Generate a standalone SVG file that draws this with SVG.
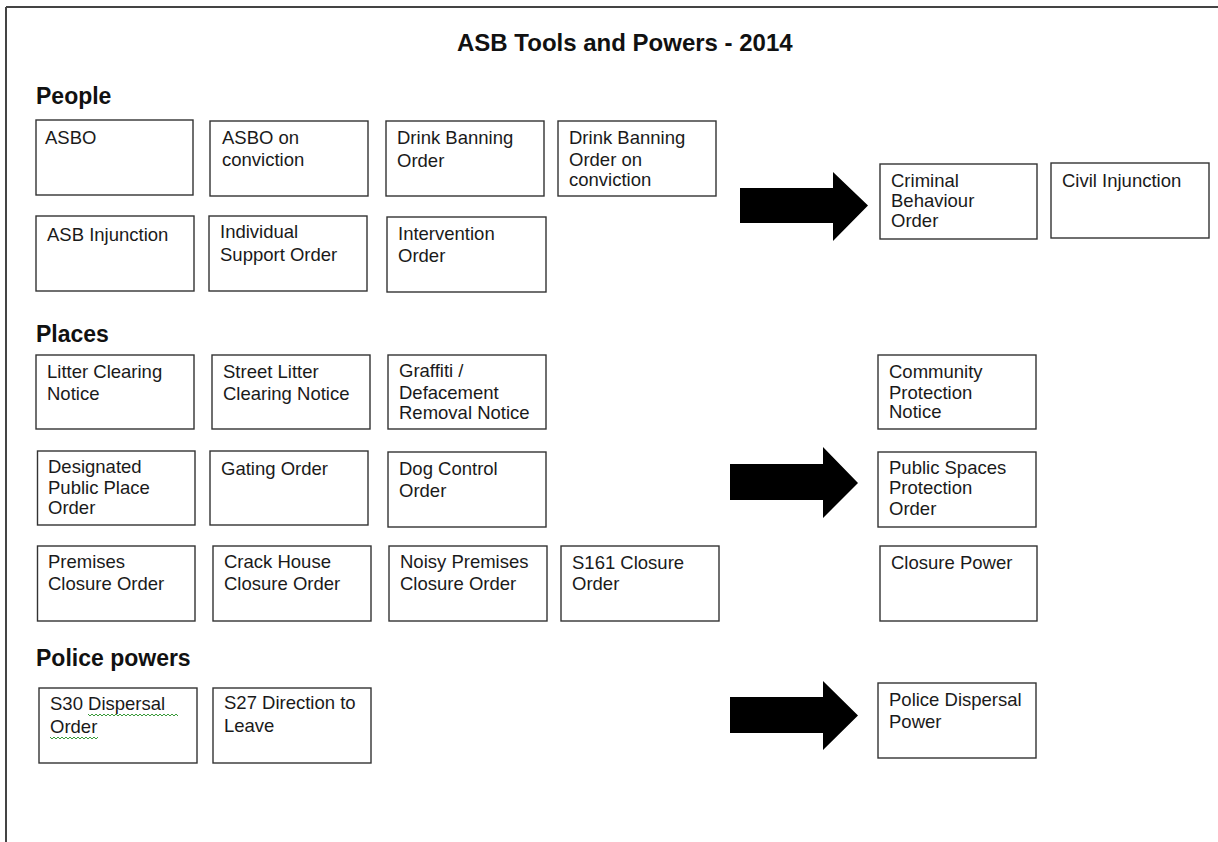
<svg xmlns="http://www.w3.org/2000/svg" width="1218" height="842" viewBox="0 0 1218 842">
<style>
.bx{fill:#fff;stroke:#333;stroke-width:1.4}
.t{font-family:"Liberation Sans",Arial,sans-serif;font-size:18.5px;fill:#1a1a1a}
.h{font-family:"Liberation Sans",Arial,sans-serif;font-size:23px;font-weight:bold;fill:#111}
.ttl{font-family:"Liberation Sans",Arial,sans-serif;font-size:24px;font-weight:bold;fill:#111}
.ar{fill:#000}
</style>
<rect width="1218" height="842" fill="#fff"/>
<g id="frame" stroke="#444" stroke-width="2" fill="none">
<line x1="6" y1="7" x2="1218" y2="7"/>
<line x1="6" y1="7" x2="6" y2="842"/>
</g>
<text class="ttl" x="457" y="51">ASB Tools and Powers - 2014</text>
<text class="h" x="36" y="104">People</text>
<text class="h" x="36" y="342">Places</text>
<text class="h" x="36" y="666">Police powers</text>

<g id="connectors">
<polygon class="ar" points="740,188 833,188 833,172 868,205.5 833,241 833,223 740,223"/>
<polygon class="ar" points="730,464 823,464 823,447 858,483 823,518 823,500 730,500"/>
<polygon class="ar" points="730,697 823,697 823,681 858,715.5 823,750 823,733 730,733"/>
</g>

<g id="asbo"><rect class="bx" x="36" y="120" width="157" height="75"/><text class="t" x="45" y="144">ASBO</text></g>
<g id="asbo-conviction"><rect class="bx" x="210" y="121" width="158" height="75"/><text class="t" x="222" y="144">ASBO on</text><text class="t" x="222" y="166">conviction</text></g>
<g id="dbo"><rect class="bx" x="386" y="121" width="158" height="75"/><text class="t" x="397" y="144">Drink Banning</text><text class="t" x="397" y="166.5">Order</text></g>
<g id="dbo-conviction"><rect class="bx" x="558" y="121" width="158" height="75"/><text class="t" x="569" y="144">Drink Banning</text><text class="t" x="569" y="166">Order on</text><text class="t" x="569" y="186">conviction</text></g>
<g id="asb-injunction"><rect class="bx" x="36" y="216" width="158" height="75"/><text class="t" x="47" y="241">ASB Injunction</text></g>
<g id="iso"><rect class="bx" x="209" y="216" width="158" height="75"/><text class="t" x="220" y="238">Individual</text><text class="t" x="220" y="261">Support Order</text></g>
<g id="intervention"><rect class="bx" x="387" y="217" width="159" height="75"/><text class="t" x="398" y="239.5">Intervention</text><text class="t" x="398" y="262">Order</text></g>
<g id="cbo"><rect class="bx" x="880" y="164" width="157" height="75"/><text class="t" x="891" y="186.5">Criminal</text><text class="t" x="891" y="207">Behaviour</text><text class="t" x="891" y="227">Order</text></g>
<g id="civil-injunction"><rect class="bx" x="1051" y="163" width="158" height="75"/><text class="t" x="1062" y="186.5">Civil Injunction</text></g>

<g id="litter"><rect class="bx" x="36" y="355" width="158" height="74"/><text class="t" x="47" y="377.5">Litter Clearing</text><text class="t" x="47" y="400">Notice</text></g>
<g id="street-litter"><rect class="bx" x="212" y="355" width="158" height="74"/><text class="t" x="223" y="377.5">Street Litter</text><text class="t" x="223" y="400">Clearing Notice</text></g>
<g id="graffiti"><rect class="bx" x="388" y="355" width="158" height="74"/><text class="t" x="399" y="377">Graffiti /</text><text class="t" x="399" y="399">Defacement</text><text class="t" x="399" y="418.5">Removal Notice</text></g>
<g id="dppo"><rect class="bx" x="37.5" y="451" width="157.5" height="74"/><text class="t" x="48" y="473">Designated</text><text class="t" x="48" y="494">Public Place</text><text class="t" x="48" y="514">Order</text></g>
<g id="gating"><rect class="bx" x="210" y="451" width="158" height="74"/><text class="t" x="221" y="475">Gating Order</text></g>
<g id="dog-control"><rect class="bx" x="388" y="452" width="158" height="75"/><text class="t" x="399" y="475">Dog Control</text><text class="t" x="399" y="497">Order</text></g>
<g id="premises"><rect class="bx" x="37.5" y="546" width="157.5" height="75"/><text class="t" x="48" y="567.5">Premises</text><text class="t" x="48" y="590">Closure Order</text></g>
<g id="crack-house"><rect class="bx" x="213" y="546" width="158" height="75"/><text class="t" x="224" y="567.5">Crack House</text><text class="t" x="224" y="590">Closure Order</text></g>
<g id="noisy"><rect class="bx" x="389" y="546" width="158" height="75"/><text class="t" x="400" y="567.5">Noisy Premises</text><text class="t" x="400" y="590">Closure Order</text></g>
<g id="s161"><rect class="bx" x="561" y="546" width="158" height="75"/><text class="t" x="572" y="569">S161 Closure</text><text class="t" x="572" y="590">Order</text></g>
<g id="cpn"><rect class="bx" x="878" y="355" width="158" height="74"/><text class="t" x="889" y="377.5">Community</text><text class="t" x="889" y="398.5">Protection</text><text class="t" x="889" y="418">Notice</text></g>
<g id="pspo"><rect class="bx" x="878" y="452" width="158" height="75"/><text class="t" x="889" y="474">Public Spaces</text><text class="t" x="889" y="494">Protection</text><text class="t" x="889" y="515">Order</text></g>
<g id="closure-power"><rect class="bx" x="880" y="546" width="157" height="75"/><text class="t" x="891" y="569">Closure Power</text></g>

<g id="s30"><rect class="bx" x="39" y="688" width="158" height="75"/><text class="t" x="50" y="710">S30 Dispersal</text><text class="t" x="50" y="733">Order</text>
<polyline fill="none" stroke="#3a9a3a" stroke-width="1" points="88,714 90,716 92,714 94,716 96,714 98,716 100,714 102,716 104,714 106,716 108,714 110,716 112,714 114,716 116,714 118,716 120,714 122,716 124,714 126,716 128,714 130,716 132,714 134,716 136,714 138,716 140,714 142,716 144,714 146,716 148,714 150,716 152,714 154,716 156,714 158,716 160,714 162,716 164,714 166,716 168,714 170,716 172,714 174,716 176,714 178,716"/>
<polyline fill="none" stroke="#3a9a3a" stroke-width="1" points="50,737 52,739 54,737 56,739 58,737 60,739 62,737 64,739 66,737 68,739 70,737 72,739 74,737 76,739 78,737 80,739 82,737 84,739 86,737 88,739 90,737 92,739 94,737 96,739 98,737"/>
</g>
<g id="s27"><rect class="bx" x="213" y="688" width="158" height="75"/><text class="t" x="224" y="709">S27 Direction to</text><text class="t" x="224" y="731.5">Leave</text></g>
<g id="police-dispersal"><rect class="bx" x="878" y="683" width="158" height="75"/><text class="t" x="889" y="705.5">Police Dispersal</text><text class="t" x="889" y="728">Power</text></g>
</svg>
